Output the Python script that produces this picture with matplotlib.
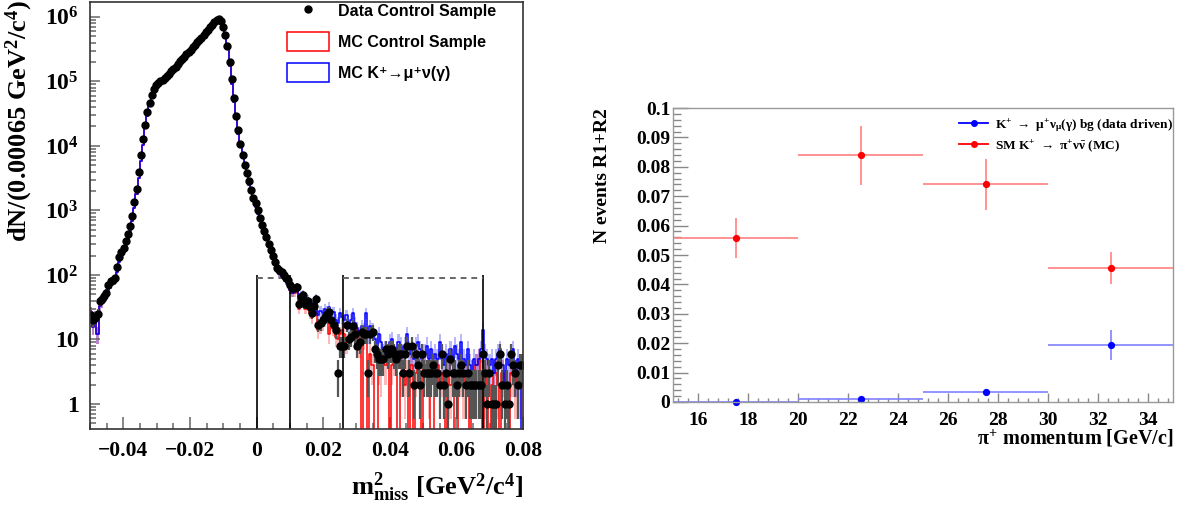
import numpy as np
import matplotlib
matplotlib.use("Agg")
import matplotlib.pyplot as plt
import matplotlib.ticker as mt
from matplotlib.lines import Line2D
from matplotlib.patches import Patch

# ---- left panel: m2_miss histogram, bin width 0.00065, range -0.05 .. 0.08
bin_lo, bin_w, n_bins = -0.05, 0.00065, 200

# data, peak region (bins 0-93), log10 of counts
data_core_log = [
    1.38, 1.30, 1.33, 1.40, 1.59, 1.63, 1.68, 1.72, 1.84, 1.90,
    1.92, 1.95, 2.12, 2.28, 2.35, 2.42, 2.53, 2.63, 2.76, 2.92,
    3.13, 3.34, 3.60, 3.86, 4.10, 4.33, 4.52, 4.67, 4.79, 4.88,
    4.95, 4.98, 5.00, 5.02, 5.05, 5.08, 5.12, 5.16, 5.19, 5.23,
    5.27, 5.31, 5.34, 5.38, 5.42, 5.46, 5.49, 5.53, 5.57, 5.61,
    5.64, 5.68, 5.72, 5.76, 5.80, 5.84, 5.88, 5.92, 5.95, 5.97,
    5.93, 5.85, 5.72, 5.55, 5.30, 5.03, 4.75, 4.47, 4.24, 4.03,
    3.86, 3.71, 3.58, 3.45, 3.31, 3.20, 3.11, 3.00, 2.89, 2.78,
    2.68, 2.59, 2.48, 2.38, 2.29, 2.20, 2.11, 2.07, 2.05, 2.00,
    1.96, 1.92, 1.84, 1.80]
# data, tail (bins 94-199), counts
data_tail = [
    62, 66, 36, 45, 49, 36, 39, 32, 26, 33,
    42, 17, 18, 20, 22, 25, 27, 20, 17, 14,
    3, 8, 8, 8, 17, 10, 11, 16, 12, 8,
    9, 13, 12, 12, 3, 12, 13, 7, 6, 5,
    5, 5, 7, 6, 7, 7, 6, 5, 6, 6,
    3, 6, 8, 3, 8, 2, 6, 4, 2, 6,
    3, 3, 3, 3, 4, 3, 3, 2, 6, 2,
    3, 1, 5, 3, 3, 2, 3, 4, 3, 2,
    3, 2, 2, 2, 2, 2, 2, 6, 3, 1,
    3, 1, 1, 1, 4, 6, 2, 1, 2, 1,
    6, 4, 3, 2, 4, 4]

# both MC samples overlap in the peak region (bins 0-93), log10 of counts
mc_core_log = [
    1.42, 1.20, 1.36, 1.08, 1.52, 1.57, 1.62, 1.66, 1.76, 1.84,
    1.88, 1.90, 2.04, 2.20, 2.28, 2.36, 2.46, 2.56, 2.68, 2.84,
    3.04, 3.25, 3.50, 3.77, 4.02, 4.27, 4.47, 4.63, 4.76, 4.86,
    4.93, 4.97, 5.00, 5.02, 5.05, 5.08, 5.12, 5.16, 5.19, 5.23,
    5.27, 5.31, 5.34, 5.38, 5.42, 5.46, 5.49, 5.53, 5.57, 5.61,
    5.64, 5.68, 5.72, 5.76, 5.80, 5.84, 5.88, 5.92, 5.95, 5.97,
    5.92, 5.82, 5.68, 5.50, 5.24, 4.96, 4.68, 4.41, 4.18, 3.98,
    3.81, 3.66, 3.53, 3.40, 3.27, 3.16, 3.06, 2.95, 2.85, 2.74,
    2.64, 2.55, 2.44, 2.34, 2.25, 2.16, 2.07, 2.02, 1.99, 1.94,
    1.90, 1.85, 1.76, 1.72]
mc_ctrl_tail = [
    52, 58, 30, 40, 44, 30, 34, 26, 22, 28,
    35, 14, 16, 18, 20, 22, 12, 18, 15, 11,
    10, 12, 14, 12, 9, 10, 11, 13, 10, 14,
    8, 0, 10, 12, 0, 6, 4, 0, 0, 4,
    3, 5, 4, 6, 0, 4, 5, 5, 0, 3,
    4, 2, 3, 0, 4, 0, 3, 5, 3, 0,
    4, 3, 2, 0, 0, 3, 4, 2, 3, 2,
    0, 3, 2, 3, 0, 0, 4, 3, 2, 3,
    3, 0, 3, 2, 4, 5, 3, 0, 2, 3,
    0, 2, 3, 3, 2, 0, 3, 2, 2, 0,
    3, 3, 2, 3, 2, 2]
mc_kmu2_tail = [
    60, 64, 45, 50, 52, 40, 42, 36, 30, 38,
    44, 24, 28, 26, 30, 28, 32, 24, 27, 20,
    18, 26, 22, 20, 24, 15, 20, 26, 18, 15,
    12, 16, 14, 26, 12, 16, 14, 10, 8, 12,
    9, 6, 7, 6, 9, 10, 6, 5, 9, 8,
    6, 8, 12, 7, 6, 5, 8, 9, 7, 5,
    6, 8, 5, 7, 5, 6, 5, 9, 5, 4,
    6, 5, 7, 4, 8, 6, 5, 9, 5, 4,
    7, 4, 3, 5, 4, 5, 7, 14, 6, 5,
    4, 5, 3, 5, 6, 7, 4, 2, 5, 4,
    5, 7, 3, 5, 4, 0]

# signal region cuts
cut_edges = [0.0, 0.01, 0.026, 0.068]
cut_top = 100
box_level = 91

# ---- right panel: events vs pi+ momentum
p_bins = [15, 20, 25, 30, 35]
p_centers = [17.5, 22.5, 27.5, 32.5]
kmu2_n = [0.0, 0.001, 0.0033, 0.0195]
kmu2_err = [0.0, 0.0, 0.0, 0.0051]
pnn_n = [0.0558, 0.0839, 0.0741, 0.0456]
pnn_err = [0.0068, 0.0100, 0.0087, 0.0053]

plt.rcParams['font.family'] = ['Liberation Serif', 'DejaVu Serif']
plt.rcParams['font.weight'] = 'bold'
plt.rcParams['axes.labelweight'] = 'bold'
plt.rcParams['mathtext.fontset'] = 'custom'
plt.rcParams['mathtext.rm'] = 'Liberation Serif:bold'
plt.rcParams['mathtext.it'] = 'Liberation Serif:bold'
plt.rcParams['mathtext.bf'] = 'Liberation Serif:bold'

W, H = 1183, 508
fig = plt.figure(figsize=(W / 100, H / 100), dpi=100)

edges = bin_lo + bin_w * np.arange(n_bins + 1)
centers = 0.5 * (edges[:-1] + edges[1:])
data = np.concatenate([10 ** np.array(data_core_log), data_tail])
mc_ctrl = np.concatenate([10 ** np.array(mc_core_log), mc_ctrl_tail])
mc_kmu2 = np.concatenate([10 ** np.array(mc_core_log), mc_kmu2_tail])

ax1 = fig.add_axes([90 / W, 1 - 429 / H, 433 / W, 427 / H])
ax1.set_yscale('log')

for h, col in [(mc_ctrl, 'red'), (mc_kmu2, 'blue')]:
    lo = np.maximum(h - np.sqrt(h), 1e-3)
    hi = h + np.sqrt(h)
    ax1.fill_between(edges, np.append(lo, lo[-1]), np.append(hi, hi[-1]),
                     step='post', color=col, alpha=0.28, lw=0)
    hv = np.maximum(h, 1e-3)
    ax1.step(edges, np.append(hv, hv[-1]), where='post', color=col, lw=1.1)

err = np.sqrt(data)
ax1.errorbar(centers, data, yerr=[np.minimum(err, data - 1e-3), err],
             fmt='o', color='black', ms=5, ecolor='#555555', elinewidth=1.6,
             capsize=0)

ax1.vlines(cut_edges, 1e-3, cut_top, color='black', lw=1.2)
ax1.hlines(box_level, cut_edges[0], cut_edges[1], color='#666666', lw=1.4,
           linestyles=(0, (3, 2.5)))
ax1.hlines(box_level, cut_edges[2], cut_edges[3], color='#666666', lw=1.4,
           linestyles=(0, (3, 2.5)))

ax1.set_xlim(-0.05, 0.08)
ax1.set_ylim(0.41, 1.7e6)
ax1.xaxis.set_major_locator(mt.MultipleLocator(0.02))
ax1.xaxis.set_minor_locator(mt.MultipleLocator(0.005))
ax1.xaxis.set_major_formatter(mt.FuncFormatter(
    lambda v, _: '0' if abs(v) < 1e-9 else ('%.2f' % v).replace('-', '\u2212')))
ax1.yaxis.set_major_locator(mt.FixedLocator([1, 10, 1e2, 1e3, 1e4, 1e5, 1e6]))
ax1.yaxis.set_minor_locator(mt.LogLocator(base=10, subs=np.arange(2, 10), numticks=20))
ax1.yaxis.set_minor_formatter(mt.NullFormatter())
ax1.yaxis.set_major_formatter(mt.FuncFormatter(
    lambda v, _: {1: '1', 10: '10'}.get(int(round(v)), r'$10^{%d}$' % int(round(np.log10(v))))))
ax1.tick_params(axis='x', which='major', direction='in', length=9, width=1.1,
                color='#666666', labelsize=15.5, pad=9, top=False)
ax1.tick_params(axis='x', which='minor', direction='in', length=4.5, width=1.1,
                color='#666666', top=False)
ax1.tick_params(axis='y', which='major', direction='in', length=7.5, width=1.1,
                color='#666666', labelsize=17, pad=8, right=False)
ax1.tick_params(axis='y', which='minor', direction='in', length=4, width=1.1,
                color='#666666', right=False)
for s in ax1.spines.values():
    s.set_color('#333333')
    s.set_linewidth(1.2)

ax1.set_xlabel(r'm$^{2}_{\mathrm{miss}}$ [GeV$^{2}$/c$^{4}$]', fontsize=19, loc='right')
ax1.xaxis.set_label_coords(1.0, -0.095)
ax1.set_ylabel(r'dN/(0.00065 GeV$^{2}$/c$^{4}$)', fontsize=19, loc='top')
ax1.yaxis.set_label_coords(-0.126, 1.005)

leg1_handles = [
    Line2D([], [], marker='o', ls='none', color='black', ms=5),
    Patch(facecolor='none', edgecolor='red', lw=1.1),
    Patch(facecolor='none', edgecolor='blue', lw=1.1),
]
leg1_labels = ['Data Control Sample', 'MC Control Sample',
               'MC K\u207a\u2192\u03bc\u207a\u03bd(\u03b3)']
ax1.legend(leg1_handles, leg1_labels, loc='upper left',
           bbox_to_anchor=(287 / W, 1 - 1 / H), bbox_transform=fig.transFigure,
           frameon=False, borderpad=0, borderaxespad=0,
           handlelength=2.6, handleheight=1.5, handletextpad=0.6,
           labelspacing=0.72,
           prop={'family': ['Liberation Sans', 'DejaVu Sans'], 'weight': 'bold', 'size': 11.5})

# ---- right panel
ax2 = fig.add_axes([673 / W, 1 - 402 / H, 500 / W, 294 / H])
xerr = [0.5 * (p_bins[i + 1] - p_bins[i]) for i in range(len(p_centers))]
ax2.errorbar(p_centers, kmu2_n, xerr=xerr, yerr=kmu2_err, fmt='none',
             ecolor='#8080ff', elinewidth=1.2, capsize=0)
ax2.plot(p_centers, kmu2_n, 'o', color='blue', ms=4.2, clip_on=False)
ax2.errorbar(p_centers, pnn_n, xerr=xerr, yerr=pnn_err, fmt='none',
             ecolor='#ff8080', elinewidth=1.2, capsize=0)
ax2.plot(p_centers, pnn_n, 'o', color='red', ms=4.2, clip_on=False)

ax2.set_xlim(15, 35)
ax2.set_ylim(0, 0.1)
ax2.xaxis.set_major_locator(mt.MultipleLocator(2))
ax2.xaxis.set_minor_locator(mt.MultipleLocator(0.4))
ax2.yaxis.set_major_locator(mt.MultipleLocator(0.01))
ax2.yaxis.set_minor_locator(mt.MultipleLocator(0.002))
ax2.yaxis.set_major_formatter(mt.FuncFormatter(
    lambda v, _: '0' if abs(v) < 1e-9 else ('%.2f' % v).rstrip('0')))
ax2.tick_params(axis='x', which='major', direction='in', length=6.5, width=1,
                color='#888888', labelsize=14, pad=7, top=False)
ax2.tick_params(axis='x', which='minor', direction='in', length=3.2, width=1,
                color='#888888', top=False)
ax2.tick_params(axis='y', which='major', direction='in', length=10.5, width=1,
                color='#888888', labelsize=14, pad=2, right=False)
ax2.tick_params(axis='y', which='minor', direction='in', length=5.5, width=1,
                color='#888888', right=False)
for s in ax2.spines.values():
    s.set_color('#999999')
    s.set_linewidth(1)

ax2.set_xlabel(r'$\pi^{+}$ momentum [GeV/c]', fontsize=14.5, loc='right')
ax2.xaxis.set_label_coords(1.0, -0.088)
ax2.set_ylabel('N events R1+R2', fontsize=14, loc='top')
ax2.yaxis.set_label_coords(-0.124, 1.0)

leg2_handles = [
    Line2D([], [], marker='o', color='blue', ms=4, lw=1.3),
    Line2D([], [], marker='o', color='red', ms=4, lw=1.3),
]
leg2_labels = [r'K$^{+}$ $\rightarrow$ $\mu^{+}\nu_{\mu}(\gamma)$ bg (data driven)',
               r'SM K$^{+}$ $\rightarrow$ $\pi^{+}\nu\bar{\nu}$ (MC)']
ax2.legend(leg2_handles, leg2_labels, loc='upper left',
           bbox_to_anchor=(959 / W, 1 - 117 / H), bbox_transform=fig.transFigure,
           frameon=False, borderpad=0, borderaxespad=0,
           handlelength=2.2, handletextpad=0.5, labelspacing=0.3,
           prop={'weight': 'bold', 'size': 9.6})

fig.savefig('out.png', dpi=100)
